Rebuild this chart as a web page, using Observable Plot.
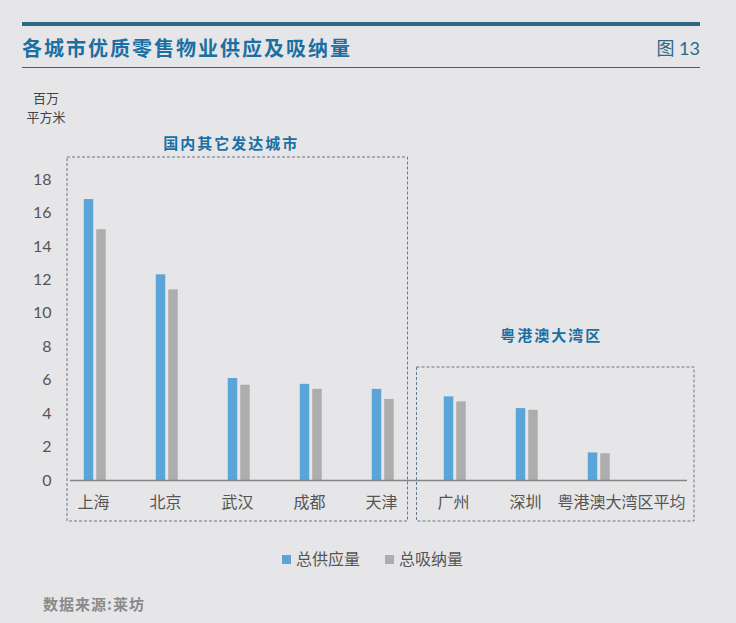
<!DOCTYPE html>
<html>
<head>
<meta charset="utf-8">
<script src="https://cdn.jsdelivr.net/npm/d3@7"></script>
<script src="https://cdn.jsdelivr.net/npm/@observablehq/plot@0.6"></script>
<style>
  html, body { margin: 0; padding: 0; background: #e6e6e9; }
  #wrap { position: relative; width: 736px; height: 623px; background: #e6e6e9; overflow: hidden;
          font-family: Lato, "Noto Sans CJK SC", sans-serif; }
  .abs { position: absolute; white-space: nowrap; }
  #topbar { left: 22px; top: 22px; width: 678px; height: 4px; background: #2d6887; }
  #title { left: 22px; top: 35px; font-size: 20px; font-weight: 700; color: #1b6fa2; letter-spacing: 2px;
           font-family: "Noto Sans CJK SC", sans-serif; line-height: 26px; }
  #fig { right: 36px; top: 36px; font-size: 18px; color: #2d6887; line-height: 24px;
         font-family: Lato, "Noto Sans CJK SC", sans-serif; }
  #thin { left: 22px; top: 67px; width: 678px; height: 1px; background: #3a6285; }
  .unit { left: 20px; width: 52px; text-align: center; font-size: 13px; line-height: 19px; height: 19px; color: #444;
          font-family: "Noto Sans CJK SC", sans-serif; }
  #unit1 { top: 88px; }
  #unit2 { top: 107px; }
  #chart { left: 0; top: 70px; }
  #legend { left: 0; top: 547px; width: 736px; height: 22px; }
  .sw { position: absolute; width: 9px; height: 9px; top: 8px; }
  .lt { position: absolute; top: 0; font-size: 16px; line-height: 22px; color: #555; font-family: "Noto Sans CJK SC", sans-serif; }
  #source { left: 43px; top: 593px; font-size: 15px; font-weight: 700; color: #8a8a8a; letter-spacing: 1px; line-height: 22px;
            font-family: "Noto Sans CJK SC", sans-serif; }
</style>
</head>
<body>
<div id="wrap">
  <div class="abs" id="topbar"></div>
  <div class="abs" id="title">各城市优质零售物业供应及吸纳量</div>
  <div class="abs" id="fig">图 13</div>
  <div class="abs" id="thin"></div>
  <div class="abs unit" id="unit1">百万</div>
  <div class="abs unit" id="unit2">平方米</div>
  <div class="abs" id="chart"></div>
  <div class="abs" id="legend"></div>
  <div class="abs" id="source">数据来源:莱坊</div>
</div>
<script>
const cities = ["上海", "北京", "武汉", "成都", "天津", "广州", "深圳", "粤港澳大湾区平均"];
const supply = [16.8, 12.3, 6.1, 5.75, 5.45, 5.0, 4.3, 1.65];
const absorption = [15.0, 11.4, 5.7, 5.45, 4.85, 4.7, 4.2, 1.6];
const yTicks = [0, 2, 4, 6, 8, 10, 12, 14, 16, 18];
const seriesNames = ["总供应量", "总吸纳量"];
const seriesColors = ["#5ba4d8", "#adadad"];
const groupNames = ["国内其它发达城市", "粤港澳大湾区"];
const groupMembers = [["上海", "北京", "武汉", "成都", "天津"], ["广州", "深圳", "粤港澳大湾区平均"]];

const data = cities.map((c, i) => ({city: c, supply: supply[i], absorption: absorption[i]}));
const lastCity = cities[cities.length - 1];

const plot = Plot.plot({
  width: 736,
  height: 460,
  marginLeft: 57,
  marginRight: 99,
  marginTop: 109,
  marginBottom: 50,
  style: {background: "transparent", color: "#555", fontFamily: 'Lato, "Noto Sans CJK SC", sans-serif'},
  x: {domain: cities, padding: 0, axis: null},
  y: {domain: [0, 18], axis: null},
  marks: [
    Plot.barY(data, {x: "city", y: "supply", fill: seriesColors[0], insetLeft: 24.75, insetRight: 37.75}),
    Plot.barY(data, {x: "city", y: "absorption", fill: seriesColors[1], insetLeft: 37.25, insetRight: 25.25}),
    Plot.ruleY([0], {stroke: "#858585", strokeWidth: 1.5, insetLeft: 13, insetRight: -50}),
    Plot.axisY({ticks: yTicks, tickSize: 0, tickPadding: 6, label: null, fontSize: 16, fill: "#555", tickFormat: d => d}),
    Plot.text(data.filter(d => d.city !== lastCity), {x: "city", y: () => 0, text: "city", dy: 22, dx: -2, fontSize: 16, fill: "#555", fontFamily: '"Noto Sans CJK SC", sans-serif'}),
    Plot.text(data.filter(d => d.city === lastCity), {x: "city", y: () => 0, text: "city", dy: 22, dx: 22, fontSize: 16, fill: "#555", fontFamily: '"Noto Sans CJK SC", sans-serif'})
  ]
});
document.getElementById("chart").appendChild(plot);

// group boxes drawn from the plot's own scales
const xs = plot.scale("x"), ys = plot.scale("y");
const bw = xs.bandwidth;
const svg = d3.select(plot);
const boxes = [
  {x1: xs.apply(groupMembers[0][0]) + 8, x2: xs.apply(groupMembers[0][4]) + bw - 11.5, y1: ys.apply(18) - 22, y2: ys.apply(0) + 41, title: groupNames[0], ty: ys.apply(18) - 37, tdx: -6},
  {x1: xs.apply(groupMembers[1][0]) - 2.5, x2: xs.apply(groupMembers[1][2]) + bw + 59, y1: ys.apply(0) - 113, y2: ys.apply(0) + 41, title: groupNames[1], ty: ys.apply(0) - 146, tdx: -4}
];
for (const b of boxes) {
  svg.append("rect")
    .attr("x", b.x1).attr("y", b.y1)
    .attr("width", b.x2 - b.x1).attr("height", b.y2 - b.y1)
    .attr("fill", "none").attr("stroke", "#64788f").attr("stroke-width", 1)
    .attr("stroke-dasharray", "3,2");
  svg.append("text")
    .attr("x", (b.x1 + b.x2) / 2 + b.tdx).attr("y", b.ty)
    .attr("text-anchor", "middle").attr("dominant-baseline", "central")
    .attr("fill", "#1b6fa2").attr("font-size", 15).attr("font-weight", 700)
    .attr("letter-spacing", "2px")
    .attr("font-family", '"Noto Sans CJK SC", sans-serif')
    .text(b.title);
}

// legend
const legend = document.getElementById("legend");
const legendX = [282, 385];
seriesNames.forEach((name, i) => {
  const sw = document.createElement("div");
  sw.className = "sw";
  sw.style.left = legendX[i] + "px";
  sw.style.background = seriesColors[i];
  legend.appendChild(sw);
  const t = document.createElement("div");
  t.className = "lt";
  t.style.left = (legendX[i] + 14) + "px";
  t.textContent = name;
  legend.appendChild(t);
});
</script>
</body>
</html>
